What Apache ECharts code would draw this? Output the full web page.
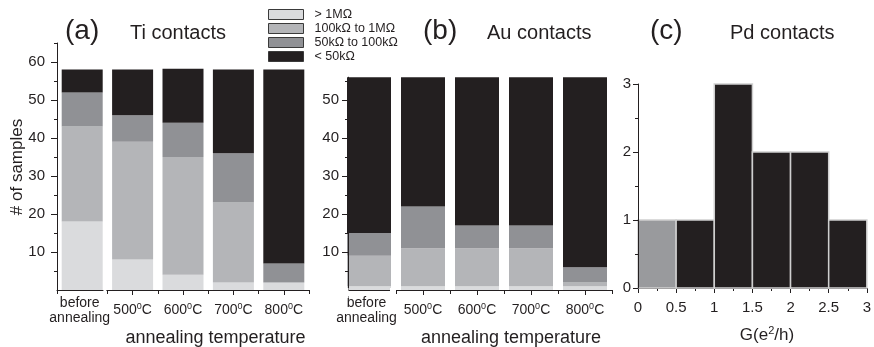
<!DOCTYPE html>
<html><head><meta charset="utf-8">
<script src="https://cdn.jsdelivr.net/npm/echarts@6/dist/echarts.min.js"></script>
<style>html,body{margin:0;padding:0;background:#fff}#c{width:874px;height:347px}</style>
</head><body><div id="c"></div>
<script>
// ---- data ----
const categories = ['before\nannealing', '500', '600', '700', '800'];
const seriesNames = ['> 1MΩ', '100kΩ to 1MΩ', '50kΩ to 100kΩ', '< 50kΩ'];
// Ti contacts (a)
const tiGt1M     = [18, 8, 4, 2, 2];
const ti100kTo1M = [25, 31, 31, 21, 0];
const ti50kTo100k = [9, 7, 9, 13, 5];
const tiLt50k    = [6, 12, 14.2, 22, 51];
// Au contacts (b)
const auGt1M     = [1, 1, 1, 1, 1];
const au100kTo1M = [8, 10, 10, 10, 1];
const au50kTo100k = [6, 11, 6, 6, 4];
const auLt50k    = [41, 34, 39, 39, 50];
// Pd contacts (c) histogram
const pdBinStart = [0, 0.5, 1, 1.5, 2, 2.5];
const pdBinEnd   = [0.5, 1, 1.5, 2, 2.5, 3];
const pdCounts   = [1, 1, 3, 2, 2, 1];
const pdGroup    = [0, 1, 1, 1, 1, 1];
// tick labels
const tiYLabels = [10, 20, 30, 40, 50, 60];
const tiYMinor  = [5, 15, 25, 35, 45, 55, 65];
const auYLabels = [10, 20, 30, 40, 50];
const auYMinor  = [5, 15, 25, 35, 45, 55];

// ---- style ----
const ink = '#231f20';
const colors = ['#dadbdd', '#b4b5b8', '#909195', '#231f20'];
const pdColors = ['#999a9d', '#231f20'];
const FONT = 'Liberation Sans, Arial, sans-serif';

const chart = echarts.init(document.getElementById('c'), null, {renderer: 'canvas'});

function catLabel(v) {
  if (v.indexOf('\n') >= 0) {
    return v.split('\n').map(function (p) { return '{m|' + p + '}'; }).join('\n');
  }
  return v + '{s|0}C';
}
const catAxisLabel = {
  color: ink, fontSize: 14, fontFamily: FONT, margin: 20.5, lineHeight: 15, interval: 0, hideOverlap: false,
  verticalAlign: 'middle',
  formatter: catLabel,
  rich: {
    s: { fontSize: 9, fontFamily: FONT, color: ink, padding: [0, 0, 7, 0] },
    m: { fontSize: 14, fontFamily: FONT, color: ink, lineHeight: 15, padding: [0, 5, 0, 0] }
  }
};
function catAxes(grid) {
  return [
    { gridIndex: grid, type: 'category', data: categories, position: 'bottom', boundaryGap: true,
      axisLine: { show: true, onZero: false, lineStyle: { color: ink, width: 1 } },
      axisTick: { show: true, length: 4, interval: 0, lineStyle: { color: ink } },
      axisLabel: catAxisLabel, splitLine: { show: false } },
    { gridIndex: grid, type: 'category', data: categories, position: 'bottom', boundaryGap: true,
      axisLine: { show: false, onZero: false },
      axisTick: { show: true, alignWithLabel: true, length: 5, lineStyle: { color: ink },
                  interval: function (i) { return i !== 0; } },
      axisLabel: { show: false }, splitLine: { show: false } }
  ];
}
function valAxes(grid, max, labels, minor, margin, offset) {
  return [
    { gridIndex: grid, type: 'value', position: 'left', min: 0, max: max, interval: 5, offset: offset, z: 5,
      axisLine: { show: true, onZero: false, lineStyle: { color: ink, width: 1 } },
      axisTick: { show: true, length: 3, lineStyle: { color: ink }, customValues: minor },
      axisLabel: { show: false }, splitLine: { show: false } },
    { gridIndex: grid, type: 'value', position: 'left', min: 0, max: max, interval: 5, offset: offset, z: 5,
      axisLine: { show: false, onZero: false },
      axisTick: { show: true, length: 6, lineStyle: { color: ink }, customValues: labels },
      axisLabel: { show: true, color: ink, fontSize: 15, fontFamily: FONT, margin: margin, customValues: labels },
      splitLine: { show: false } }
  ];
}

const tiSeries = [tiGt1M, ti100kTo1M, ti50kTo100k, tiLt50k].map(function (d, i) {
  return { name: seriesNames[i], type: 'bar', stack: 'ti', xAxisIndex: 0, yAxisIndex: 0,
           barWidth: 41, data: d, itemStyle: { color: colors[i] }, silent: true };
});
const auSeries = [auGt1M, au100kTo1M, au50kTo100k, auLt50k].map(function (d, i) {
  return { name: seriesNames[i], type: 'bar', stack: 'au', xAxisIndex: 2, yAxisIndex: 2,
           barWidth: 44, data: d, itemStyle: { color: colors[i] }, silent: true };
});
const pdData = pdBinStart.map(function (s, i) { return [s, pdBinEnd[i], pdCounts[i], pdGroup[i]]; });

const option = {
  animation: false,
  backgroundColor: '#fff',
  textStyle: { fontFamily: FONT },
  legend: {
    orient: 'vertical', left: 268, top: 8, padding: 0, itemWidth: 35, itemHeight: 10, itemGap: 1,
    icon: 'rect', selectedMode: false, data: seriesNames,
    itemStyle: { borderColor: '#3a3a3a', borderWidth: 1 },
    textStyle: { color: ink, fontSize: 12.5, fontFamily: FONT, padding: [0, 0, 0, 6] }
  },
  grid: [
    { left: 57, top: 43, width: 252, height: 247 },
    { left: 342, top: 77.2, width: 270, height: 212.8 },
    { left: 638, top: 84, width: 230, height: 204 }
  ],
  xAxis: catAxes(0).concat(catAxes(1)).concat([
    { gridIndex: 2, type: 'value', position: 'bottom', min: 0, max: 3, interval: 0.5,
      axisLine: { show: true, onZero: false, lineStyle: { color: ink } },
      axisTick: { show: true, length: 5, lineStyle: { color: ink } },
      minorTick: { show: true, splitNumber: 2, length: 3, lineStyle: { color: ink } },
      axisLabel: { color: ink, fontSize: 15, fontFamily: FONT, margin: 12 },
      splitLine: { show: false } }
  ]),
  yAxis: valAxes(0, 65, tiYLabels, tiYMinor, 12, 0).concat(valAxes(1, 56, auYLabels, auYMinor, 9, -6)).concat([
    { gridIndex: 2, type: 'value', position: 'left', min: 0, max: 3, interval: 1, z: 5,
      axisLine: { show: true, onZero: false, lineStyle: { color: ink } },
      axisTick: { show: true, length: 5, lineStyle: { color: ink } },
      minorTick: { show: true, splitNumber: 2, length: 3, lineStyle: { color: ink } },
      axisLabel: { color: ink, fontSize: 15, fontFamily: FONT, margin: 7 },
      splitLine: { show: false } }
  ]),
  series: tiSeries.concat(auSeries).concat([
    { type: 'custom', xAxisIndex: 4, yAxisIndex: 4, data: pdData, silent: true,
      encode: { x: [0, 1], y: 2 },
      renderItem: function (params, api) {
        const p0 = api.coord([api.value(0), api.value(2)]);
        const p1 = api.coord([api.value(1), 0]);
        return { type: 'rect',
                 shape: { x: p0[0], y: p0[1], width: p1[0] - p0[0], height: p1[1] - p0[1] },
                 style: { fill: pdColors[api.value(3)], stroke: '#cfcfcf', lineWidth: 1.5 } };
      } }
  ])
};
chart.setOption(option);

// decorations: titles, axis names, axis breaks
function breakRect(xIdx, yIdx, left, right) {
  const c0 = chart.convertToPixel({ xAxisIndex: xIdx }, categories[0]);
  const c1 = chart.convertToPixel({ xAxisIndex: xIdx }, categories[1]);
  const y0 = chart.convertToPixel({ yAxisIndex: yIdx }, 0);
  const mid = (c0 + c1) / 2;
  return { type: 'rect', z: 100, shape: { x: mid - left, y: y0 - 2, width: left - right, height: 10 },
           style: { fill: '#fff' } };
}
const bLeft = chart.convertToPixel({ xAxisIndex: 2 }, categories[0]) - 27;
const yB0 = chart.convertToPixel({ yAxisIndex: 2 }, 0);

function txt(x, y, s, size) {
  return { type: 'text', z: 100, x: x, y: y,
    style: { text: s, fill: ink, font: size + 'px ' + FONT, textVerticalAlign: 'middle', textAlign: 'left' } };
}
chart.setOption({
  graphic: [
    txt(65, 31, '(a)', 28),
    txt(130, 33, 'Ti contacts', 20),
    txt(423, 31, '(b)', 28),
    txt(487, 33, 'Au contacts', 20),
    txt(650, 31, '(c)', 28),
    txt(730, 33, 'Pd contacts', 20),
    { type: 'text', z: 100, x: 17, y: 167, rotation: Math.PI / 2,
      style: { text: '# of samples', fill: ink, font: '17px ' + FONT, textAlign: 'center', textVerticalAlign: 'middle' } },
    { type: 'text', z: 100, x: 215.5, y: 338,
      style: { text: 'annealing temperature', fill: ink, font: '18px ' + FONT, textAlign: 'center', textVerticalAlign: 'middle' } },
    { type: 'text', z: 100, x: 511, y: 338,
      style: { text: 'annealing temperature', fill: ink, font: '18px ' + FONT, textAlign: 'center', textVerticalAlign: 'middle' } },
    { type: 'text', z: 100, x: 767, y: 335,
      style: { text: 'G(e{s|2}/h)', fill: ink, font: '17px ' + FONT, textAlign: 'center', textVerticalAlign: 'middle',
               rich: { s: { fontSize: 11, fontFamily: FONT, fill: ink, padding: [0, 0, 8, 0] } } } },
    breakRect(0, 0, 4, 1),
    breakRect(2, 2, 6, 0),
    { type: 'rect', z: 100, shape: { x: bLeft - 3, y: yB0 - 2, width: 9.5, height: 10 }, style: { fill: '#fff' } }
  ]
});
</script></body></html>
